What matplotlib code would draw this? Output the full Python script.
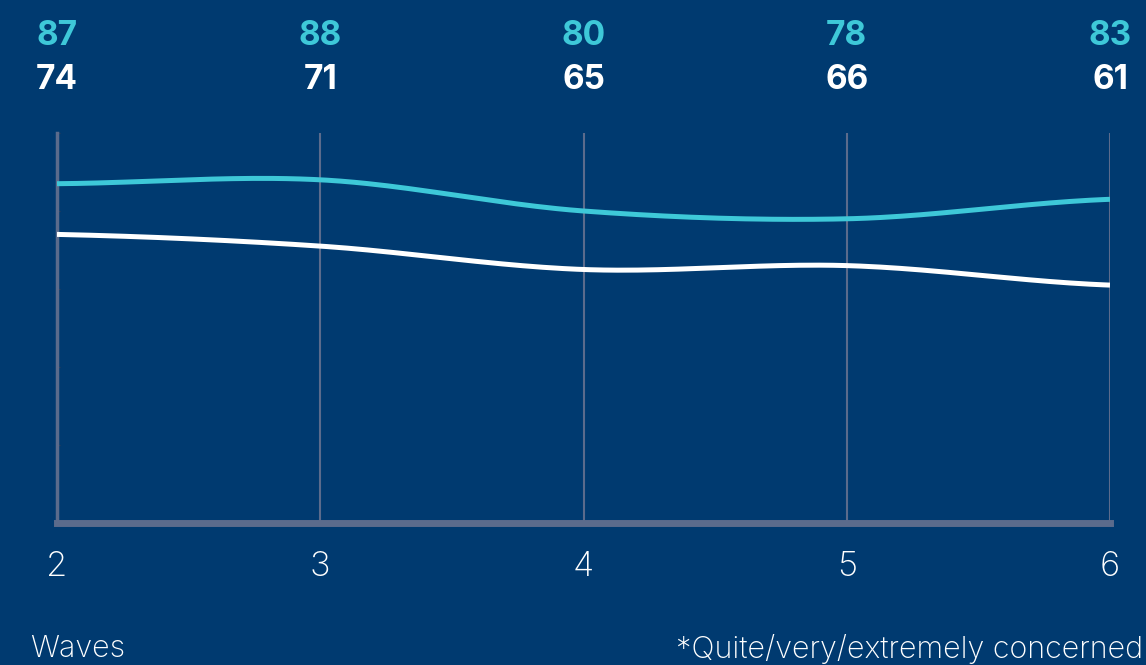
import numpy as np
import matplotlib.pyplot as plt

waves = [2, 3, 4, 5, 6]
concerned = [87, 88, 80, 78, 83]
other = [74, 71, 65, 66, 61]

bg = '#003a70'
cyan = '#3ec8d8'
grid_col = '#5b6b8c'


def smooth(x, y, n=40):
    # catmull-rom through the points, end points duplicated
    x = np.asarray(x, float)
    y = np.asarray(y, float)
    px = np.concatenate([[2 * x[0] - x[1]], x, [2 * x[-1] - x[-2]]])
    py = np.concatenate([[y[0]], y, [y[-1]]])
    xs, ys = [], []
    t = np.linspace(0, 1, n)
    for i in range(1, len(px) - 2):
        for p, out in ((px, xs), (py, ys)):
            p0, p1, p2, p3 = p[i - 1], p[i], p[i + 1], p[i + 2]
            out.append(0.5 * ((2 * p1) + (-p0 + p2) * t
                              + (2 * p0 - 5 * p1 + 4 * p2 - p3) * t ** 2
                              + (-p0 + 3 * p1 - 3 * p2 + p3) * t ** 3))
    return np.concatenate(xs), np.concatenate(ys)


plt.rcParams['font.family'] = ['Inter', 'DejaVu Sans']
fig = plt.figure(figsize=(11.46, 6.65), dpi=100, facecolor=bg)
ax = fig.add_axes([57 / 1146, 1 - 523 / 665, (1110 - 57) / 1146, 390 / 665])
ax.set_facecolor(bg)
ax.set_xlim(2, 6)
ax.set_ylim(0, 100)

for w in waves[1:]:
    ax.axvline(w, color=grid_col, lw=1.5, zorder=1)

sx, sy = smooth(waves, other)
ax.plot(sx, sy, color='white', lw=3.6, zorder=3, solid_capstyle='butt')
sx, sy = smooth(waves, concerned)
ax.plot(sx, sy, color=cyan, lw=3.6, zorder=3, solid_capstyle='butt')

for s in ['top', 'right']:
    ax.spines[s].set_visible(False)
ax.spines['left'].set_color(grid_col)
ax.spines['left'].set_linewidth(2.5)
ax.spines['bottom'].set_color(grid_col)
ax.spines['bottom'].set_linewidth(5)
ax.set_xticks(waves)
ax.set_xticklabels([str(w) for w in waves], color='white', fontsize=25, fontweight='light')
ax.tick_params(axis='x', length=0, pad=20)
ax.set_yticks(np.arange(0, 101, 20))
ax.set_yticklabels([])
ax.tick_params(axis='y', length=2, color='#2a3a5a', direction='in')

for w, c, o in zip(waves, concerned, other):
    ax.annotate(str(c), (w, 100), xytext=(0, 97), textcoords='offset pixels',
                ha='center', va='center', color=cyan, fontsize=24, fontweight='bold',
                annotation_clip=False)
    ax.annotate(str(o), (w, 100), xytext=(0, 53), textcoords='offset pixels',
                ha='center', va='center', color='white', fontsize=24, fontweight='bold',
                annotation_clip=False)

fig.text(30 / 1146, 1 - 649 / 665, 'Waves', color='white', fontsize=22, fontweight='light',
         ha='left', va='center')
fig.text(1143 / 1146, 1 - 649 / 665, '*Quite/very/extremely concerned', color='white',
         fontsize=22, fontweight='light', ha='right', va='center')

fig.savefig('out.png', dpi=100, facecolor=bg)
